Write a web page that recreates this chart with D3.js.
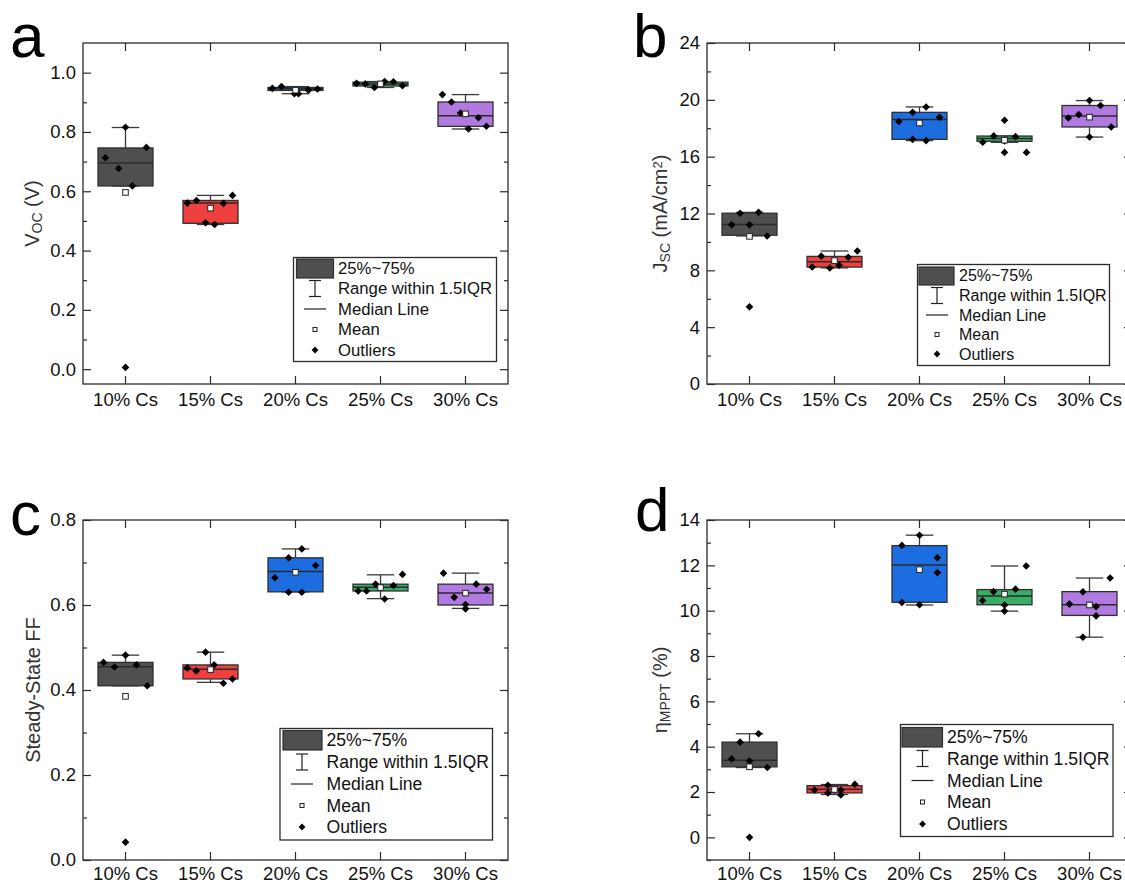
<!DOCTYPE html>
<html>
<head>
<meta charset="utf-8">
<script src="https://cdn.jsdelivr.net/npm/d3@7"></script>
<style>
  body { margin: 0; background: #fff; }
  text { font-family: "Liberation Sans", Arial, sans-serif; }
</style>
</head>
<body>
<svg id="fig" width="1125" height="884"></svg>
<script>
// ---- shared categories / styling ----
const categories = ["10% Cs", "15% Cs", "20% Cs", "25% Cs", "30% Cs"];
const boxColors  = ["#4f4f4f", "#ef3f3f", "#1b6de0", "#38ad66", "#b17ae0"];
const legendLabels = ["25%~75%", "Range within 1.5IQR", "Median Line", "Mean", "Outliers"];

// ---- Voc (V) ----
const vocPoints = [
  [0.713, 0.677, 0.816, 0.748, 0.618, 0.006],
  [0.560, 0.569, 0.494, 0.488, 0.559, 0.586],
  [0.947, 0.953, 0.929, 0.929, 0.941, 0.945],
  [0.964, 0.962, 0.950, 0.970, 0.969, 0.956],
  [0.926, 0.901, 0.864, 0.810, 0.848, 0.819]
];
const vocSpread = [
  [-0.73, -0.25, 0, 0.76, 0.25, 0],
  [-0.84, -0.51, -0.18, 0.15, 0.47, 0.80],
  [-0.84, -0.51, -0.04, 0.11, 0.47, 0.80],
  [-0.87, -0.55, -0.22, 0.15, 0.47, 0.80],
  [-0.84, -0.51, -0.18, 0.11, 0.47, 0.76]
];
const vocQ1   = [0.618, 0.492, 0.940, 0.955, 0.819];
const vocMed  = [0.695, 0.560, 0.946, 0.962, 0.855];
const vocQ3   = [0.746, 0.569, 0.950, 0.968, 0.901];
const vocLow  = [0.618, 0.488, 0.929, 0.950, 0.810];
const vocHigh = [0.815, 0.586, 0.953, 0.970, 0.926];
const vocMean = [0.596, 0.543, 0.941, 0.962, 0.861];
const vocTicks = [0.0, 0.2, 0.4, 0.6, 0.8, 1.0];
const vocMinor = [0.1, 0.3, 0.5, 0.7, 0.9];

// ---- Jsc (mA/cm2) ----
const jscPoints = [
  [11.20, 12.02, 11.20, 12.08, 10.42, 5.43],
  [8.23, 9.00, 8.17, 8.37, 8.92, 9.36],
  [18.47, 19.12, 17.22, 19.50, 17.13, 18.77],
  [17.01, 17.46, 17.10, 17.41, 18.56, 16.30, 16.30],
  [18.72, 18.96, 19.95, 17.38, 19.60, 18.09]
];
const jscSpread = [
  [-0.65, -0.34, 0, 0.33, 0.64, 0],
  [-0.81, -0.48, -0.17, 0.17, 0.50, 0.83],
  [-0.75, -0.25, -0.25, 0.24, 0.24, 0.73],
  [-0.79, -0.39, 0, 0.40, 0, 0, 0.80],
  [-0.77, -0.39, 0, 0, 0.40, 0.79]
];
const jscQ1   = [10.47, 8.23, 17.22, 17.08, 18.09];
const jscMed  = [11.22, 8.61, 18.61, 17.27, 18.87];
const jscQ3   = [12.02, 8.98, 19.12, 17.45, 19.60];
const jscLow  = [10.42, 8.17, 17.13, 17.01, 17.38];
const jscHigh = [12.08, 9.36, 19.50, 17.46, 19.95];
const jscMean = [10.39, 8.68, 18.37, 17.16, 18.78];
const jscTicks = [0, 4, 8, 12, 16, 20, 24];
const jscMinor = [2, 6, 10, 14, 18, 22];

// ---- steady-state FF ----
const ffPoints = [
  [0.465, 0.454, 0.482, 0.459, 0.410, 0.042],
  [0.452, 0.445, 0.489, 0.459, 0.416, 0.426],
  [0.664, 0.711, 0.630, 0.732, 0.630, 0.693],
  [0.633, 0.633, 0.649, 0.614, 0.646, 0.672],
  [0.675, 0.618, 0.601, 0.591, 0.649, 0.637]
];
const ffSpread = [
  [-0.80, -0.40, 0, 0.40, 0.79, 0],
  [-0.84, -0.52, -0.18, 0.13, 0.47, 0.80],
  [-0.75, -0.25, -0.25, 0.23, 0.23, 0.73],
  [-0.81, -0.51, -0.18, 0.15, 0.47, 0.80],
  [-0.80, -0.41, 0, 0, 0.39, 0.77]
];
const ffQ1   = [0.410, 0.426, 0.631, 0.633, 0.600];
const ffMed  = [0.455, 0.449, 0.679, 0.642, 0.628];
const ffQ3   = [0.465, 0.459, 0.711, 0.649, 0.649];
const ffLow  = [0.410, 0.418, 0.631, 0.615, 0.592];
const ffHigh = [0.482, 0.489, 0.732, 0.671, 0.675];
const ffMean = [0.385, 0.448, 0.677, 0.641, 0.628];
const ffTicks = [0.0, 0.2, 0.4, 0.6, 0.8];
const ffMinor = [0.1, 0.3, 0.5, 0.7];

// ---- MPPT efficiency (%) ----
const pcePoints = [
  [3.46, 4.20, 3.37, 4.57, 3.08, 0.00],
  [2.09, 2.30, 1.96, 2.09, 1.87, 2.34],
  [12.88, 10.36, 13.33, 10.26, 12.34, 11.68],
  [10.45, 10.84, 10.25, 9.98, 10.95, 11.97],
  [10.29, 10.83, 8.83, 10.18, 9.77, 11.44]
];
const pceSpread = [
  [-0.65, -0.34, 0, 0.33, 0.65, 0],
  [-0.73, -0.24, -0.24, 0.23, 0.23, 0.74],
  [-0.64, -0.64, 0, 0, 0.65, 0.65],
  [-0.80, -0.40, 0, 0, 0.40, 0.79],
  [-0.73, -0.24, -0.24, 0.24, 0.24, 0.75]
];
const pceQ1   = [3.11, 1.96, 10.37, 10.26, 9.79];
const pceMed  = [3.40, 2.12, 12.02, 10.65, 10.26];
const pceQ3   = [4.20, 2.28, 12.87, 10.93, 10.84];
const pceLow  = [3.08, 1.89, 10.25, 9.98, 8.83];
const pceHigh = [4.57, 2.33, 13.33, 11.97, 11.44];
const pceMean = [3.11, 2.11, 11.81, 10.73, 10.25];
const pceTicks = [0, 2, 4, 6, 8, 10, 12, 14];
const pceMinor = [-1, 1, 3, 5, 7, 9, 11, 13];

// ---- drawing ----
const svg = d3.select("#fig");
svg.append("rect").attr("width", 1125).attr("height", 884).attr("fill", "#fff");

const INK = "#2b2b2b";
const diamond = r => `M0,${-r}L${r},0L0,${r}L${-r},0Z`;

function drawPanel(cfg) {
  const g = svg.append("g");
  const W = cfg.right - cfg.left, H = cfg.bottom - cfg.top;
  const x = d3.scaleBand().domain(categories).range([cfg.left, cfg.right]).padding(0);
  const y = d3.scaleLinear().domain(cfg.yDomain).range([cfg.bottom, cfg.top]);
  const bw = x.bandwidth() * 0.647;
  const cx = c => x(c) + x.bandwidth() / 2;

  // axes: inward ticks, left + mirrored right, bottom + mirrored top
  const axisStyle = sel => {
    sel.select(".domain").remove();
    sel.selectAll("line").attr("stroke", INK).attr("stroke-width", 1.2);
    sel.selectAll("text").attr("fill", "#111").style("font-size", "18.5px")
       .style("font-family", '"Liberation Sans", Arial, sans-serif');
  };
  g.append("g").attr("transform", `translate(${cfg.left},0)`)
    .call(d3.axisLeft(y).tickValues(cfg.ticks).tickFormat(d3.format(cfg.fmt))
      .tickSize(-8).tickPadding(7)).call(axisStyle);
  g.append("g").attr("transform", `translate(${cfg.left},0)`)
    .call(d3.axisLeft(y).tickValues(cfg.minor).tickFormat("").tickSize(-4)).call(axisStyle);
  g.append("g").attr("transform", `translate(${cfg.right},0)`)
    .call(d3.axisRight(y).tickValues(cfg.ticks).tickFormat("").tickSize(-8)).call(axisStyle);
  g.append("g").attr("transform", `translate(${cfg.right},0)`)
    .call(d3.axisRight(y).tickValues(cfg.minor).tickFormat("").tickSize(-4)).call(axisStyle);
  g.append("g").attr("transform", `translate(0,${cfg.bottom})`)
    .call(d3.axisBottom(x).tickSize(-8).tickPadding(cfg.xPad)).call(axisStyle);
  g.append("g").attr("transform", `translate(0,${cfg.top})`)
    .call(d3.axisTop(x).tickFormat("").tickSize(-8)).call(axisStyle);

  // frame
  g.append("rect").attr("x", cfg.left).attr("y", cfg.top).attr("width", W).attr("height", H)
    .attr("fill", "none").attr("stroke", INK).attr("stroke-width", 1.3);

  // boxes
  categories.forEach((c, i) => {
    const xc = cx(c);
    const bg = g.append("g");
    // whiskers
    const wk = bg.append("g").attr("stroke", "#3a3a3a").attr("stroke-width", 1.3);
    wk.append("line").attr("x1", xc).attr("x2", xc).attr("y1", y(cfg.q3[i])).attr("y2", y(cfg.hi[i]));
    wk.append("line").attr("x1", xc).attr("x2", xc).attr("y1", y(cfg.q1[i])).attr("y2", y(cfg.lo[i]));
    wk.append("line").attr("x1", xc - bw / 4).attr("x2", xc + bw / 4).attr("y1", y(cfg.hi[i])).attr("y2", y(cfg.hi[i]));
    wk.append("line").attr("x1", xc - bw / 4).attr("x2", xc + bw / 4).attr("y1", y(cfg.lo[i])).attr("y2", y(cfg.lo[i]));
    // interquartile box
    bg.append("rect").attr("x", xc - bw / 2).attr("y", y(cfg.q3[i]))
      .attr("width", bw).attr("height", Math.max(1, y(cfg.q1[i]) - y(cfg.q3[i])))
      .attr("fill", boxColors[i]).attr("stroke", "#2f2f2f").attr("stroke-width", 1.3);
    // median
    bg.append("line").attr("x1", xc - bw / 2).attr("x2", xc + bw / 2)
      .attr("y1", y(cfg.med[i])).attr("y2", y(cfg.med[i]))
      .attr("stroke", "#2a2a2a").attr("stroke-width", 1.5);
    // data points
    bg.selectAll("path.pt").data(cfg.points[i]).join("path").attr("class", "pt")
      .attr("d", diamond(3.8))
      .attr("transform", (v, k) => `translate(${xc + cfg.spread[i][k] * bw / 2},${y(v)})`)
      .attr("fill", "#000");
    // mean
    bg.append("rect").attr("x", xc - 2.8).attr("y", y(cfg.mean[i]) - 2.8)
      .attr("width", 5.6).attr("height", 5.6)
      .attr("fill", "#fff").attr("stroke", "#222").attr("stroke-width", 1);
  });

  // y title
  const t = g.append("text")
    .attr("transform", `translate(${cfg.titleX},${(cfg.top + cfg.bottom) / 2}) rotate(-90)`)
    .attr("text-anchor", "middle").attr("fill", "#333").style("font-size", "20px");
  cfg.title.forEach(part => {
    const ts = t.append("tspan").text(part.t);
    if (part.sub) ts.attr("baseline-shift", "-22%").style("font-size", "14px");
    if (part.sup) ts.attr("baseline-shift", "42%").style("font-size", "13px");
  });

  // panel letter
  g.append("text").attr("x", cfg.letterX).attr("y", cfg.letterY)
    .attr("fill", "#000").style("font-size", "62px").text(cfg.letter);

  // legend
  const L = cfg.legend;
  const lg = g.append("g");
  lg.append("rect").attr("x", L.x).attr("y", L.y).attr("width", L.w).attr("height", L.h)
    .attr("fill", "#fff").attr("stroke", INK).attr("stroke-width", 1.3);
  lg.append("rect").attr("x", L.sw[0]).attr("y", L.sw[1]).attr("width", L.sw[2]).attr("height", L.sw[3])
    .attr("fill", boxColors[0]).attr("stroke", "#2f2f2f").attr("stroke-width", 1.2);
  legendLabels.forEach((lab, k) => {
    lg.append("text").attr("x", L.tx).attr("y", L.rows[k]).attr("dy", "0.35em")
      .attr("fill", "#111").style("font-size", L.fs + "px").text(lab);
  });
  const sx = L.sx;
  const r1 = L.rows[1];
  const ik = lg.append("g").attr("stroke", "#222").attr("stroke-width", 1.2);
  ik.append("line").attr("x1", sx).attr("x2", sx).attr("y1", r1 - 8).attr("y2", r1 + 8);
  ik.append("line").attr("x1", sx - 6).attr("x2", sx + 6).attr("y1", r1 - 8).attr("y2", r1 - 8);
  ik.append("line").attr("x1", sx - 6).attr("x2", sx + 6).attr("y1", r1 + 8).attr("y2", r1 + 8);
  lg.append("line").attr("x1", sx - 11).attr("x2", sx + 11).attr("y1", L.rows[2]).attr("y2", L.rows[2])
    .attr("stroke", "#222").attr("stroke-width", 1.2);
  lg.append("rect").attr("x", sx - 2).attr("y", L.rows[3] - 2).attr("width", 4).attr("height", 4)
    .attr("fill", "#fff").attr("stroke", "#222").attr("stroke-width", 1);
  lg.append("path").attr("d", diamond(3.4)).attr("transform", `translate(${sx},${L.rows[4]})`).attr("fill", "#000");
}

drawPanel({
  letter: "a", letterX: 10, letterY: 57,
  left: 83, right: 508, top: 43, bottom: 384, xPad: 9,
  yDomain: [-0.05, 1.1], ticks: vocTicks, minor: vocMinor, fmt: ".1f",
  points: vocPoints, spread: vocSpread, q1: vocQ1, med: vocMed, q3: vocQ3, lo: vocLow, hi: vocHigh, mean: vocMean,
  titleX: 39, title: [{t: "V"}, {t: "OC", sub: true}, {t: " (V)"}],
  legend: {x: 293.5, y: 257.5, w: 203, h: 104, sw: [296.5, 259, 37, 19], tx: 338, sx: 315,
           rows: [268, 288.5, 309, 329.5, 350], fs: 16.7}
});

drawPanel({
  letter: "b", letterX: 633, letterY: 57,
  left: 707, right: 1132, top: 43, bottom: 384, xPad: 9,
  yDomain: [0, 24], ticks: jscTicks, minor: jscMinor, fmt: "d",
  points: jscPoints, spread: jscSpread, q1: jscQ1, med: jscMed, q3: jscQ3, lo: jscLow, hi: jscHigh, mean: jscMean,
  titleX: 667, title: [{t: "J"}, {t: "SC", sub: true}, {t: " (mA/cm"}, {t: "2", sup: true}, {t: ")"}],
  legend: {x: 917.5, y: 264.5, w: 192, h: 101, sw: [919, 267, 35, 18], tx: 959, sx: 937,
           rows: [275, 295.5, 315, 334.5, 354], fs: 16}
});

drawPanel({
  letter: "c", letterX: 10, letterY: 535,
  left: 83, right: 508, top: 520, bottom: 860, xPad: 6.5,
  yDomain: [0, 0.8], ticks: ffTicks, minor: ffMinor, fmt: ".1f",
  points: ffPoints, spread: ffSpread, q1: ffQ1, med: ffMed, q3: ffQ3, lo: ffLow, hi: ffHigh, mean: ffMean,
  titleX: 40, title: [{t: "Steady-State FF"}],
  legend: {x: 280, y: 728.5, w: 212.5, h: 111.5, sw: [283, 730.5, 39, 19.5], tx: 326.5, sx: 302,
           rows: [740, 762, 784, 805.5, 827], fs: 17.6}
});

drawPanel({
  letter: "d", letterX: 635, letterY: 531,
  left: 707, right: 1132, top: 520, bottom: 860, xPad: 6.5,
  yDomain: [-1, 14], ticks: pceTicks, minor: pceMinor, fmt: "d",
  points: pcePoints, spread: pceSpread, q1: pceQ1, med: pceMed, q3: pceQ3, lo: pceLow, hi: pceHigh, mean: pceMean,
  titleX: 667, title: [{t: "η"}, {t: "MPPT", sub: true}, {t: " (%)"}],
  legend: {x: 900.5, y: 724.5, w: 212.5, h: 112, sw: [902, 727.5, 40.5, 19.5], tx: 947, sx: 922.5,
           rows: [736.5, 758.5, 780.5, 802, 824], fs: 17.6}
});
</script>
</body>
</html>
